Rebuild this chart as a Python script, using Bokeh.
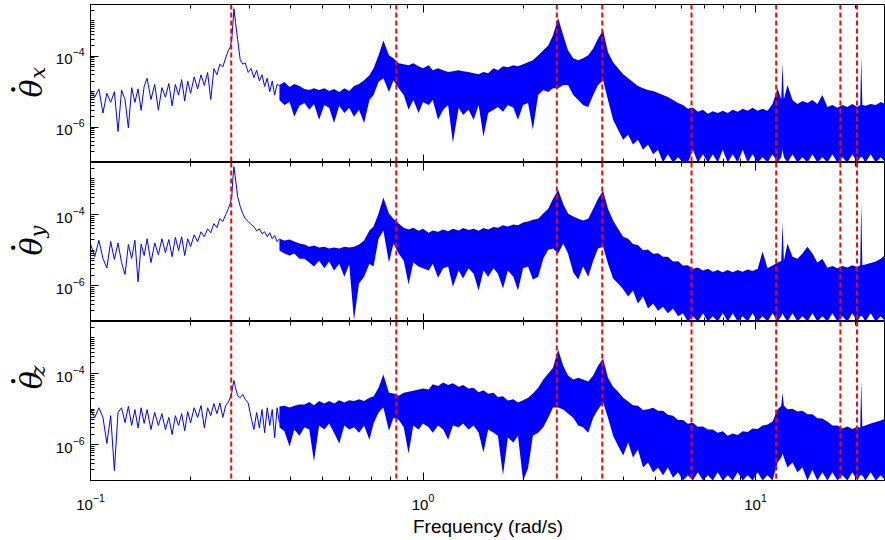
import numpy as np
from bokeh.plotting import figure
from bokeh.layouts import column, row
from bokeh.models import FixedTicker, LogAxis, Range1d, Span, Label, CustomJSTickFormatter
from bokeh.embed import file_html
from bokeh.resources import INLINE

# ---------------- data ----------------
components = ["x", "y", "z"]
mode_freqs = [0.265, 0.831, 2.526, 3.46, 6.42, 11.54, 18.0, 20.2]
x_major = [0.1, 1.0, 10.0]
y_major = [1e-6, 1e-4]

# low-frequency trace (individual wiggles visible)
freq_line = [0.100, 0.103, 0.106, 0.109, 0.112, 0.115, 0.118, 0.121, 0.124, 0.127, 0.130, 0.133, 0.136, 0.139, 0.142, 0.145, 0.148,
             0.152, 0.156, 0.160, 0.164, 0.168, 0.172, 0.176, 0.180, 0.184, 0.188, 0.192, 0.196, 0.200,
             0.205, 0.210, 0.215, 0.220, 0.225, 0.230, 0.235, 0.240, 0.245, 0.250, 0.255, 0.260,
             0.263, 0.266, 0.268, 0.270, 0.273, 0.277, 0.282, 0.287, 0.292, 0.298,
             0.304, 0.310, 0.316, 0.322, 0.328, 0.334, 0.340, 0.346, 0.352, 0.358, 0.364, 0.370]

theta_x_line = [1.1e-5, 7.0e-6, 1.2e-5, 2.5e-6, 9.0e-6, 5.0e-6, 1.0e-5, 7.5e-7, 1.1e-5, 6.0e-6, 9.5e-7, 1.3e-5, 5.0e-6, 1.2e-5, 3.0e-6, 1.4e-5, 2.4e-5,
                6.0e-6, 1.6e-5, 3.0e-6, 1.3e-5, 7.0e-6, 1.7e-5, 4.0e-6, 1.6e-5, 8.0e-6, 2.2e-5, 5.5e-6, 2.0e-5, 9.0e-6,
                2.6e-5, 1.2e-5, 3.0e-5, 1.5e-5, 3.5e-5, 6.0e-6, 4.5e-5, 3.0e-5, 6.0e-5, 5.0e-5, 9.0e-5, 1.5e-4,
                1.8e-4, 3.0e-4, 8.0e-4, 2.2e-3, 9.0e-4, 3.0e-4, 8.0e-5, 6.0e-5, 6.5e-5, 3.5e-5,
                4.5e-5, 2.5e-5, 4.0e-5, 2.0e-5, 3.0e-5, 1.4e-5, 2.4e-5, 1.0e-5, 2.0e-5, 8.0e-6, 1.6e-5, 1.5e-5]

theta_y_line = [1.5e-5, 6.6e-6, 1.9e-5, 5.9e-6, 3.2e-6, 1.75e-5, 5.5e-6, 1.6e-5, 4.5e-6, 2.1e-6, 1.45e-5, 5.9e-6, 1.9e-5, 1.3e-6, 1.5e-5, 7.1e-6, 2.1e-5,
                4.5e-6, 1.6e-5, 7.5e-6, 2.1e-5, 8.6e-6, 2.0e-5, 6.6e-6, 2.3e-5, 9.8e-6, 2.4e-5, 7.1e-6, 2.1e-5, 1.27e-5,
                2.7e-5, 1.75e-5, 3.3e-5, 2.4e-5, 4.0e-5, 3.1e-5, 5.6e-5, 4.3e-5, 7.7e-5, 6.4e-5, 1.0e-4, 1.5e-4,
                2.0e-4, 3.2e-4, 1.0e-3, 2.2e-3, 1.0e-3, 3.2e-4, 1.7e-4, 1.07e-4, 7.7e-5, 6.4e-5,
                5.3e-5, 4.6e-5, 3.5e-5, 4.0e-5, 2.9e-5, 3.3e-5, 2.4e-5, 3.1e-5, 2.1e-5, 2.6e-5, 1.75e-5, 2.1e-5]

theta_z_line = [9.8e-6, 5.9e-6, 1.1e-5, 5.9e-6, 1.1e-6, 6.6e-6, 1.9e-7, 8.1e-6, 1.1e-5, 4.2e-6, 1.2e-5, 3.5e-6, 9.8e-6, 3.0e-6, 1.1e-5, 4.0e-6, 9.8e-6,
                2.7e-6, 8.1e-6, 3.5e-6, 7.5e-6, 2.7e-6, 5.9e-6, 1.95e-6, 6.6e-6, 3.5e-6, 7.5e-6, 2.5e-6, 8.6e-6, 4.2e-6,
                1.1e-5, 5.9e-6, 1.27e-5, 3.0e-6, 1.1e-5, 6.6e-6, 1.45e-5, 7.5e-6, 1.5e-5, 5.9e-6, 1.27e-5, 1.6e-5,
                2.1e-5, 2.9e-5, 4.6e-5, 6.4e-5, 4.0e-5, 2.4e-5, 2.1e-5, 2.6e-5, 1.9e-5, 1.5e-5,
                5.9e-6, 2.7e-6, 8.1e-6, 3.0e-6, 9.8e-6, 2.2e-6, 1.1e-5, 3.5e-6, 9.8e-6, 1.6e-6, 1.1e-5, 4.2e-6]

# dense part of the spectrum: upper and lower edge of the blue band
freq_band = [0.37, 0.383, 0.397, 0.41, 0.425, 0.44, 0.455, 0.47, 0.487, 0.505,
             0.522, 0.54, 0.56, 0.58, 0.60, 0.62, 0.642, 0.665, 0.69, 0.71,
             0.735, 0.76, 0.79, 0.815, 0.845, 0.875, 0.905, 0.935, 0.97, 1.0,
             1.04, 1.07, 1.11, 1.15, 1.19, 1.23, 1.28, 1.32, 1.37, 1.42,
             1.47, 1.52, 1.57, 1.63, 1.68, 1.74, 1.80, 1.87, 1.93, 2.0,
             2.07, 2.14, 2.22, 2.3, 2.38, 2.46, 2.55, 2.64, 2.73, 2.83,
             2.93, 3.03, 3.14, 3.25, 3.36, 3.48, 3.6, 3.73, 3.86, 4.0,
             4.14, 4.28, 4.43, 4.59, 4.75, 4.92, 5.09, 5.27, 5.45, 5.65,
             5.85, 6.05, 6.26, 6.48, 6.71, 6.95, 7.19, 7.44, 7.7, 7.97,
             8.25, 8.54, 8.84, 9.15, 9.47, 9.8, 10.15, 10.5, 10.87, 11.25,
             11.65, 11.95, 12.06, 12.17, 12.48, 12.92, 13.37, 13.84, 14.33, 14.83,
             15.35, 15.89,
             16.45, 17.03, 17.63, 18.25, 18.89, 19.55, 20.24, 20.65, 20.8, 20.95,
             21.4, 22.2, 23.0, 23.8, 24.6]

theta_x_hi = [1.54e-5, 1.87e-5, 1.35e-5, 1.64e-5, 1.44e-5, 1.19e-5, 1.11e-5, 1.26e-5, 1.11e-5, 1.26e-5,
              1.04e-5, 1.19e-5, 9.8e-6, 1.26e-5, 1.04e-5, 1.44e-5, 1.64e-5, 2.1e-5, 2.9e-5, 4.6e-5,
              1.07e-4, 2.8e-4, 1.07e-4, 8.8e-5, 6.4e-5, 6.0e-5, 5.6e-5, 6.4e-5, 5.2e-5, 4.6e-5,
              5.6e-5, 4.0e-5, 4.6e-5, 4.0e-5, 3.6e-5, 3.8e-5, 4.0e-5, 3.8e-5, 3.6e-5, 3.3e-5,
              3.1e-5, 3.6e-5, 3.3e-5, 4.6e-5, 4.0e-5, 5.2e-5, 4.9e-5, 5.6e-5, 5.2e-5, 6.0e-5,
              6.8e-5, 7.7e-5, 1.07e-4, 1.47e-4, 2.0e-4, 3.9e-4, 1.2e-3, 3.9e-4, 1.47e-4, 8.8e-5,
              7.7e-5, 8.8e-5, 1.07e-4, 1.67e-4, 3.2e-4, 5.4e-4, 1.29e-4, 6.8e-5, 4.6e-5, 3.1e-5,
              2.4e-5, 1.87e-5, 1.44e-5, 1.26e-5, 1.11e-5, 1.04e-5, 9.2e-6, 8.1e-6, 7.1e-6, 5.8e-6,
              4.8e-6, 4.2e-6, 3.3e-6, 3.6e-6, 2.7e-6, 3.1e-6, 2.4e-6, 2.8e-6, 2.5e-6, 2.9e-6,
              2.5e-6, 3.1e-6, 2.7e-6, 3.3e-6, 2.9e-6, 3.5e-6, 2.9e-6, 3.3e-6, 2.9e-6, 4.5e-6,
              1.26e-5, 6.0e-6, 6.4e-5, 6.0e-6, 1.54e-5, 5.8e-6, 4.5e-6, 5.5e-6, 4.8e-6, 5.8e-6,
              4.5e-6, 8.1e-6,
              3.7e-6, 4.2e-6, 3.5e-6, 4.2e-6, 3.7e-6, 4.5e-6, 3.7e-6, 4.2e-6, 1.0e-4, 4.2e-6,
              4.0e-6, 4.5e-6, 4.2e-6, 5.1e-6, 4.5e-6]
theta_x_lo = [5.8e-6, 4.2e-6, 5.1e-6, 1.95e-6, 4.0e-6, 4.8e-6, 3.1e-6, 4.5e-6, 1.6e-6, 4.2e-6,
              3.5e-6, 1.3e-6, 4.0e-6, 2.5e-6, 3.5e-6, 1.95e-6, 3.1e-6, 1.3e-6, 5.8e-6, 8.1e-6,
              1.87e-5, 2.4e-5, 9.8e-6, 2.1e-5, 1.26e-5, 8.1e-6, 3.1e-6, 5.8e-6, 2.5e-6, 5.1e-6,
              4.2e-6, 5.8e-6, 1.6e-6, 3.1e-6, 4.2e-6, 3.6e-7, 3.5e-6, 2.2e-6, 3.1e-6, 1.6e-6,
              4.2e-6, 5.3e-7, 2.5e-6, 3.1e-6, 3.7e-6, 2.7e-6, 4.2e-6, 3.5e-6, 1.6e-6, 4.2e-6,
              4.8e-6, 8.4e-7, 8.1e-6, 1.11e-5, 9.8e-6, 1.26e-5, 1.26e-5, 1.54e-5, 1.54e-5, 8.1e-6,
              5.8e-6, 4.2e-6, 3.7e-6, 8.1e-6, 1.54e-5, 2.1e-5, 5.8e-6, 1.6e-6, 8.4e-7, 4.4e-7,
              6.1e-7, 3.2e-7, 4.4e-7, 2.3e-7, 3.2e-7, 1.7e-7, 2.3e-7, 1.0e-7, 1.7e-7, 1.0e-7,
              1.4e-7, 1.0e-7, 1.0e-7, 2.3e-7, 1.0e-7, 1.7e-7, 1.0e-7, 1.7e-7, 1.0e-7, 2.3e-7,
              1.0e-7, 1.7e-7, 1.0e-7, 2.3e-7, 1.0e-7, 1.7e-7, 1.0e-7, 1.4e-7, 1.0e-7, 1.7e-7,
              1.0e-7, 1.4e-7, 2.3e-7, 1.4e-7, 1.0e-7, 1.7e-7, 1.0e-7, 1.4e-7, 1.0e-7, 1.7e-7,
              1.0e-7, 1.4e-7,
              1.0e-7, 1.7e-7, 1.0e-7, 1.4e-7, 1.0e-7, 1.7e-7, 1.0e-7, 1.4e-7, 1.4e-7, 1.4e-7,
              1.0e-7, 1.7e-7, 1.0e-7, 1.4e-7, 1.0e-7]

theta_y_hi = [2.1e-5, 1.87e-5, 2.0e-5, 1.75e-5, 1.54e-5, 1.44e-5, 1.26e-5, 1.35e-5, 1.19e-5, 1.26e-5,
              1.11e-5, 1.19e-5, 1.11e-5, 1.26e-5, 1.19e-5, 1.26e-5, 1.44e-5, 1.87e-5, 3.6e-5, 4.6e-5,
              1.07e-4, 3.0e-4, 1.07e-4, 7.7e-5, 5.6e-5, 4.3e-5, 3.8e-5, 4.3e-5, 3.5e-5, 4.0e-5,
              3.1e-5, 3.6e-5, 3.3e-5, 3.8e-5, 3.4e-5, 4.0e-5, 3.6e-5, 4.2e-5, 3.7e-5, 4.0e-5,
              3.5e-5, 4.2e-5, 3.8e-5, 4.5e-5, 4.3e-5, 5.0e-5, 4.6e-5, 5.3e-5, 5.0e-5, 6.0e-5,
              6.4e-5, 7.2e-5, 7.7e-5, 1.07e-4, 1.47e-4, 2.8e-4, 5.0e-4, 2.0e-4, 1.07e-4, 8.8e-5,
              7.7e-5, 6.8e-5, 7.7e-5, 1.47e-4, 2.8e-4, 4.7e-4, 1.47e-4, 6.8e-5, 4.0e-5, 2.4e-5,
              2.1e-5, 1.5e-5, 1.4e-5, 1.0e-5, 1.05e-5, 8.0e-6, 8.2e-6, 6.6e-6, 6.6e-6, 4.8e-6,
              4.9e-6, 3.7e-6, 3.8e-6, 3.0e-6, 3.3e-6, 2.7e-6, 3.0e-6, 2.5e-6, 2.8e-6, 2.4e-6,
              2.8e-6, 2.4e-6, 2.8e-6, 2.5e-6, 2.9e-6, 2.6e-6, 3.0e-6, 9.2e-6, 3.1e-6, 3.7e-6,
              4.5e-6, 5.0e-6, 6.0e-5, 5.0e-6, 1.54e-5, 6.6e-6, 5.8e-6, 8.1e-6, 1.26e-5, 8.1e-6,
              4.5e-6, 5.8e-6,
              3.2e-6, 3.6e-6, 3.1e-6, 3.6e-6, 3.3e-6, 3.8e-6, 3.4e-6, 3.8e-6, 2.2e-4, 3.8e-6,
              4.0e-6, 4.4e-6, 4.8e-6, 5.8e-6, 7.6e-6]
theta_y_lo = [9.8e-6, 8.1e-6, 7.1e-6, 8.1e-6, 5.8e-6, 5.8e-6, 4.5e-6, 3.5e-6, 5.1e-6, 3.1e-6,
              4.8e-6, 2.7e-6, 4.2e-6, 1.8e-6, 4.0e-6, 1.1e-7, 1.16e-6, 1.8e-6, 4.2e-6, 3.5e-6,
              2.1e-5, 3.6e-5, 4.5e-6, 1.54e-5, 8.1e-6, 5.1e-6, 1.1e-6, 4.5e-6, 3.5e-6, 3.1e-6,
              2.7e-6, 4.2e-6, 1.7e-6, 3.1e-6, 3.5e-6, 9.5e-7, 2.7e-6, 1.6e-6, 3.1e-6, 2.2e-6,
              7.4e-7, 2.7e-6, 1.8e-6, 3.1e-6, 2.2e-6, 8.4e-7, 2.7e-6, 1.8e-6, 7.4e-7, 3.1e-6,
              3.5e-6, 1.5e-6, 1.8e-6, 5.8e-6, 1.04e-5, 1.11e-5, 8.1e-6, 1.54e-5, 8.1e-6, 2.4e-6,
              1.5e-6, 3.5e-6, 1.8e-6, 5.1e-6, 1.11e-5, 1.26e-5, 4.2e-6, 1.6e-6, 1.16e-6, 8.0e-7,
              5.0e-7, 7.4e-7, 3.2e-7, 5.0e-7, 2.3e-7, 3.2e-7, 2.0e-7, 2.6e-7, 1.7e-7, 2.3e-7,
              1.4e-7, 1.7e-7, 1.0e-7, 1.4e-7, 1.0e-7, 1.7e-7, 1.0e-7, 1.4e-7, 1.0e-7, 1.7e-7,
              1.0e-7, 1.7e-7, 1.0e-7, 1.4e-7, 1.0e-7, 1.7e-7, 1.0e-7, 1.4e-7, 1.0e-7, 1.7e-7,
              1.0e-7, 1.4e-7, 1.7e-7, 1.4e-7, 1.0e-7, 1.7e-7, 1.0e-7, 1.4e-7, 1.0e-7, 1.7e-7,
              1.0e-7, 1.4e-7,
              1.0e-7, 1.7e-7, 1.0e-7, 1.4e-7, 1.0e-7, 1.7e-7, 1.0e-7, 1.4e-7, 1.4e-7, 1.4e-7,
              1.0e-7, 1.7e-7, 1.0e-7, 1.4e-7, 1.0e-7]

theta_z_hi = [1.19e-5, 1.26e-5, 1.11e-5, 1.26e-5, 1.35e-5, 1.35e-5, 1.6e-5, 1.3e-5, 1.7e-5, 1.45e-5,
              1.7e-5, 1.45e-5, 1.8e-5, 1.55e-5, 1.8e-5, 1.7e-5, 1.9e-5, 1.7e-5, 2.1e-5, 2.26e-5,
              4.0e-5, 9.4e-5, 2.9e-5, 2.75e-5, 2.4e-5, 2.9e-5, 3.1e-5, 3.3e-5, 3.6e-5, 3.8e-5,
              3.6e-5, 5.0e-5, 4.5e-5, 5.6e-5, 4.8e-5, 5.4e-5, 4.3e-5, 4.8e-5, 3.8e-5, 4.0e-5,
              3.0e-5, 3.4e-5, 2.7e-5, 2.9e-5, 2.2e-5, 2.3e-5, 1.75e-5, 1.9e-5, 1.55e-5, 1.8e-5,
              2.1e-5, 2.75e-5, 4.0e-5, 6.8e-5, 1.0e-4, 1.47e-4, 4.7e-4, 1.67e-4, 8.8e-5, 6.8e-5,
              7.7e-5, 6.8e-5, 6.0e-5, 8.8e-5, 1.67e-4, 2.64e-4, 7.7e-5, 4.3e-5, 3.1e-5, 2.1e-5,
              1.64e-5, 1.3e-5, 1.25e-5, 9.5e-6, 1.0e-5, 1.1e-5, 9.0e-6, 9.0e-6, 7.0e-6, 6.6e-6,
              5.0e-6, 5.0e-6, 3.9e-6, 4.2e-6, 3.2e-6, 3.3e-6, 2.7e-6, 2.7e-6, 2.2e-6, 2.4e-6,
              1.8e-6, 2.1e-6, 1.9e-6, 2.4e-6, 2.3e-6, 2.9e-6, 2.8e-6, 3.5e-6, 3.7e-6, 4.5e-6,
              9.8e-6, 1.26e-5, 2.9e-5, 1.26e-5, 1.0e-5, 1.04e-5, 8.6e-6, 9.0e-6, 7.2e-6, 7.2e-6,
              5.6e-6, 5.5e-6,
              4.5e-6, 3.5e-6, 3.5e-6, 2.9e-6, 3.3e-6, 2.8e-6, 3.2e-6, 3.0e-6, 6.4e-5, 3.3e-6,
              3.5e-6, 4.0e-6, 4.4e-6, 4.8e-6, 5.5e-6]
theta_z_lo = [3.1e-6, 2.4e-6, 9.0e-7, 2.7e-6, 1.8e-6, 3.1e-6, 2.7e-6, 3.4e-7, 3.5e-6, 2.7e-6,
              4.0e-6, 2.2e-6, 1.1e-6, 3.5e-6, 2.7e-6, 3.1e-6, 2.2e-6, 3.5e-6, 1.4e-6, 4.0e-6,
              8.1e-6, 1.11e-5, 2.5e-6, 5.8e-6, 5.1e-6, 3.1e-6, 5.7e-7, 3.5e-6, 2.7e-6, 4.0e-6,
              3.1e-6, 2.2e-6, 3.5e-6, 2.7e-6, 1.4e-6, 3.5e-6, 3.1e-6, 4.0e-6, 2.7e-6, 3.5e-6,
              2.2e-6, 6.1e-7, 2.7e-6, 2.2e-6, 1.8e-6, 1.4e-7, 1.6e-6, 1.16e-6, 1.8e-6, 1.0e-7,
              2.2e-7, 1.8e-6, 2.2e-6, 3.1e-6, 5.8e-6, 1.11e-5, 1.11e-5, 9.8e-6, 7.6e-6, 5.8e-6,
              3.5e-6, 3.1e-6, 2.2e-6, 5.8e-6, 9.8e-6, 1.54e-5, 5.8e-6, 1.8e-6, 9.5e-7, 5.0e-7,
              1.16e-6, 4.4e-7, 7.4e-7, 2.3e-7, 3.2e-7, 1.7e-7, 2.3e-7, 1.4e-7, 2.3e-7, 1.2e-7,
              1.7e-7, 1.0e-7, 1.4e-7, 1.0e-7, 1.7e-7, 1.0e-7, 1.4e-7, 1.0e-7, 1.7e-7, 1.0e-7,
              1.4e-7, 1.0e-7, 1.7e-7, 1.0e-7, 1.4e-7, 1.0e-7, 1.7e-7, 1.0e-7, 1.4e-7, 1.0e-7,
              3.2e-7, 4.4e-7, 5.7e-7, 4.4e-7, 2.3e-7, 3.2e-7, 1.7e-7, 2.3e-7, 1.0e-7, 2.0e-7,
              1.0e-7, 1.7e-7,
              1.0e-7, 1.7e-7, 1.0e-7, 1.4e-7, 1.0e-7, 1.7e-7, 1.0e-7, 1.4e-7, 1.4e-7, 1.4e-7,
              1.0e-7, 1.7e-7, 1.0e-7, 1.4e-7, 1.0e-7]

line_series = [theta_x_line, theta_y_line, theta_z_line]
band_hi = [theta_x_hi, theta_y_hi, theta_z_hi]
band_lo = [theta_x_lo, theta_y_lo, theta_z_lo]
for a in line_series:
    assert len(a) == len(freq_line)
for a in band_hi + band_lo:
    assert len(a) == len(freq_band), len(a)

# ---------------- styling ----------------
SANS = "Liberation Sans"
SERIF = "DejaVu Serif"
BLUE = "#0000ff"
RED = "#ff0000"

x_minor = [k * 10.0 ** e for e in (-1, 0, 1) for k in range(2, 10)]
y_minor = [k * 10.0 ** e for e in range(-7, -2) for k in range(1, 10) if (k, e) not in ((1, -6), (1, -4))]

x_range = Range1d(0.1, 24.6)
blank = CustomJSTickFormatter(code="return ''")

LAB_W = 50                        # width of the strip that holds the rotated y labels
heights = [162, 159, 219]         # figure heights (page is 540 tall)
top_borders = [4, 0, 0]
bottom_borders = [0, 0, 60]
theta_pos = [86, 84, 81]          # label centre, px from the top of each row
sub_pos = [70, 69, 68]


def style_axis(ax, show_labels):
    ax.major_tick_in = 8
    ax.major_tick_out = 0
    ax.minor_tick_in = 4
    ax.minor_tick_out = 0
    ax.major_tick_line_color = "black"
    ax.minor_tick_line_color = "black"
    ax.axis_line_color = None
    ax.major_label_text_font = SANS
    ax.major_label_text_color = "black"
    if show_labels:
        ax.major_label_text_font_size = "15px"
        ax.major_label_standoff = 6
    else:
        ax.formatter = blank
        ax.axis_label = None
        ax.major_label_text_font_size = "0px"
        ax.major_label_standoff = 0


rows = []
for i, comp in enumerate(components):
    first = i == 0
    last = i == len(components) - 1
    H = heights[i]
    p = figure(width=885 - LAB_W, height=H,
               x_axis_type="log", y_axis_type="log",
               x_range=x_range, y_range=Range1d(1e-7, 2.9e-3),
               output_backend="svg", toolbar_location=None,
               min_border_left=90 - LAB_W, min_border_right=0,
               min_border_top=top_borders[i], min_border_bottom=bottom_borders[i])
    p.outline_line_color = "black"
    p.outline_line_width = 1
    p.xgrid.visible = False
    p.ygrid.visible = False

    xa = p.xaxis[0]
    xa.ticker = FixedTicker(ticks=x_major, minor_ticks=x_minor)
    if last:
        style_axis(xa, True)
        xa.major_label_standoff = 13
        xa.axis_label = "Frequency (rad/s)"
        xa.axis_label_text_font = SANS
        xa.axis_label_text_font_style = "normal"
        xa.axis_label_text_font_size = "19px"
        xa.axis_label_text_color = "black"
        xa.axis_label_standoff = 3
    else:
        style_axis(xa, False)

    ya = p.yaxis[0]
    ya.ticker = FixedTicker(ticks=y_major, minor_ticks=y_minor)
    style_axis(ya, True)
    ya.axis_label = None

    top_axis = LogAxis(ticker=FixedTicker(ticks=x_major, minor_ticks=x_minor))
    style_axis(top_axis, False)
    p.add_layout(top_axis, "above")

    p.varea(x=freq_band, y1=band_lo[i], y2=band_hi[i], fill_color=BLUE)
    p.line(freq_line, line_series[i], line_color=BLUE, line_width=1)

    for f in mode_freqs:
        p.add_layout(Span(location=f, dimension="height", line_color=RED,
                          line_width=2, line_dash="5 3"))

    # strip with the rotated symbol label (pixel coordinates, y measured from the top)
    lab = figure(width=LAB_W, height=H, x_range=Range1d(0, LAB_W), y_range=Range1d(H, 0),
                 output_backend="svg", toolbar_location=None,
                 x_axis_location=None, y_axis_location=None,
                 min_border_left=0, min_border_right=0, min_border_top=0, min_border_bottom=0)
    lab.outline_line_color = None
    lab.xgrid.visible = False
    lab.ygrid.visible = False
    lab.add_layout(Label(x=31, y=theta_pos[i], text="\u03b8", angle=np.pi / 2,
                         text_font=SERIF, text_font_style="italic", text_font_size="30px",
                         text_align="center", text_baseline="middle", text_color="black"))
    lab.add_layout(Label(x=13, y=theta_pos[i] + 1, text="\u2022", angle=np.pi / 2,
                         text_font=SERIF, text_font_size="15px",
                         text_align="center", text_baseline="middle", text_color="black"))
    lab.add_layout(Label(x=37, y=sub_pos[i], text=comp, angle=np.pi / 2,
                         text_font=SERIF, text_font_style="italic", text_font_size="21px",
                         text_align="center", text_baseline="middle", text_color="black"))
    rows.append(row(lab, p, spacing=0))

layout = column(*rows, spacing=0)
open("out.html", "w").write(file_html(layout, INLINE))
